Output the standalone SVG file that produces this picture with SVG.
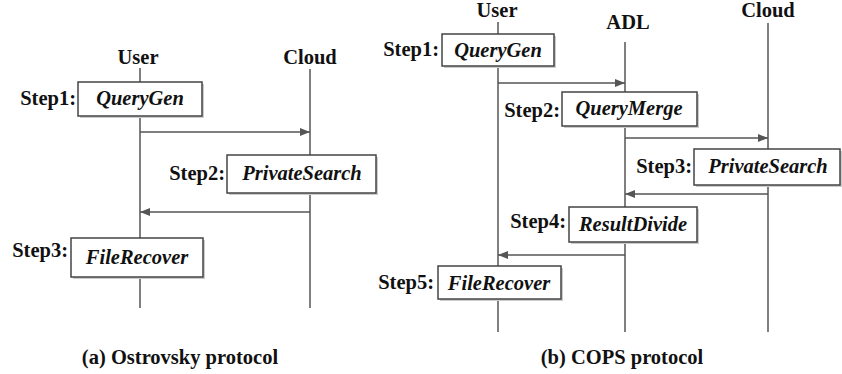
<svg xmlns="http://www.w3.org/2000/svg" width="842" height="374" viewBox="0 0 842 374">
<style>
text{font-family:"Liberation Serif","Times New Roman",serif;font-weight:bold;font-size:20.5px;fill:#111}
.fn{font-style:italic;text-anchor:middle}
.st{text-anchor:end}
.hd{text-anchor:middle}
.life{stroke:#555;stroke-width:1.5;fill:none}
.box{fill:#fff;stroke:#444;stroke-width:1.5}
.shadow{fill:#ccc}
.msg{stroke:#555;stroke-width:1.5;fill:none;marker-end:url(#ah)}
</style>
<defs>
<marker id="ah" viewBox="0 0 10 8" refX="10" refY="4" markerWidth="10" markerHeight="8" markerUnits="userSpaceOnUse" orient="auto">
<path d="M0,0 L10,4 L0,8 Z" fill="#555"/>
</marker>
</defs>
<rect width="842" height="374" fill="#fff"/>

<g id="a-user">
<text class="hd" x="138" y="64">User</text>
<line class="life" x1="140" y1="68" x2="140" y2="308"/>
</g>
<g id="a-cloud">
<text class="hd" x="310" y="64">Cloud</text>
<line class="life" x1="310" y1="69" x2="310" y2="308"/>
</g>

<g id="b-user">
<text class="hd" x="497" y="17">User</text>
<line class="life" x1="498" y1="22" x2="498" y2="332"/>
</g>
<g id="b-adl">
<text class="hd" x="628" y="29">ADL</text>
<line class="life" x1="625" y1="42" x2="625" y2="332"/>
</g>
<g id="b-cloud">
<text class="hd" x="768" y="17">Cloud</text>
<line class="life" x1="768" y1="23" x2="768" y2="332"/>
</g>

<g id="connectors">
<line class="msg" x1="140" y1="132" x2="310" y2="132"/>
<line class="msg" x1="310" y1="212" x2="140" y2="212"/>
<line class="msg" x1="498" y1="83" x2="625" y2="83"/>
<line class="msg" x1="625" y1="138" x2="768" y2="138"/>
<line class="msg" x1="768" y1="194" x2="625" y2="194"/>
<line class="msg" x1="625" y1="255" x2="498" y2="255"/>
</g>

<g id="a-step1">
<rect class="shadow" x="80" y="84" width="124" height="34"/>
<rect class="box" x="78" y="82" width="124" height="34"/>
<text class="st" x="76" y="105">Step1:</text>
<text class="fn" x="140" y="105">QueryGen</text>
</g>
<g id="a-step2">
<rect class="shadow" x="229" y="157" width="149" height="38"/>
<rect class="box" x="227" y="155" width="149" height="38"/>
<text class="st" x="225" y="180">Step2:</text>
<text class="fn" x="302" y="180">PrivateSearch</text>
</g>
<g id="a-step3">
<rect class="shadow" x="73" y="240" width="132" height="39"/>
<rect class="box" x="71" y="238" width="132" height="39"/>
<text class="st" x="68" y="257">Step3:</text>
<text class="fn" x="137" y="264">FileRecover</text>
</g>

<g id="b-step1">
<rect class="shadow" x="444" y="36" width="112" height="32"/>
<rect class="box" x="442" y="34" width="112" height="32"/>
<text class="st" x="439" y="56">Step1:</text>
<text class="fn" x="498" y="57">QueryGen</text>
</g>
<g id="b-step2">
<rect class="shadow" x="564" y="94" width="135" height="34"/>
<rect class="box" x="562" y="92" width="135" height="34"/>
<text class="st" x="560" y="117">Step2:</text>
<text class="fn" x="629" y="115">QueryMerge</text>
</g>
<g id="b-step3">
<rect class="shadow" x="696" y="151" width="146" height="36"/>
<rect class="box" x="694" y="149" width="146" height="36"/>
<text class="st" x="692" y="173">Step3:</text>
<text class="fn" x="768" y="173">PrivateSearch</text>
</g>
<g id="b-step4">
<rect class="shadow" x="571" y="209" width="128" height="35"/>
<rect class="box" x="569" y="207" width="128" height="35"/>
<text class="st" x="566" y="228">Step4:</text>
<text class="fn" x="633" y="231">ResultDivide</text>
</g>
<g id="b-step5">
<rect class="shadow" x="440" y="268" width="123" height="33"/>
<rect class="box" x="438" y="266" width="123" height="33"/>
<text class="st" x="434" y="289">Step5:</text>
<text class="fn" x="499" y="290">FileRecover</text>
</g>

<g id="captions">
<text class="hd" x="180" y="364">(a) Ostrovsky protocol</text>
<text class="hd" x="622" y="364">(b) COPS protocol</text>
</g>
</svg>
